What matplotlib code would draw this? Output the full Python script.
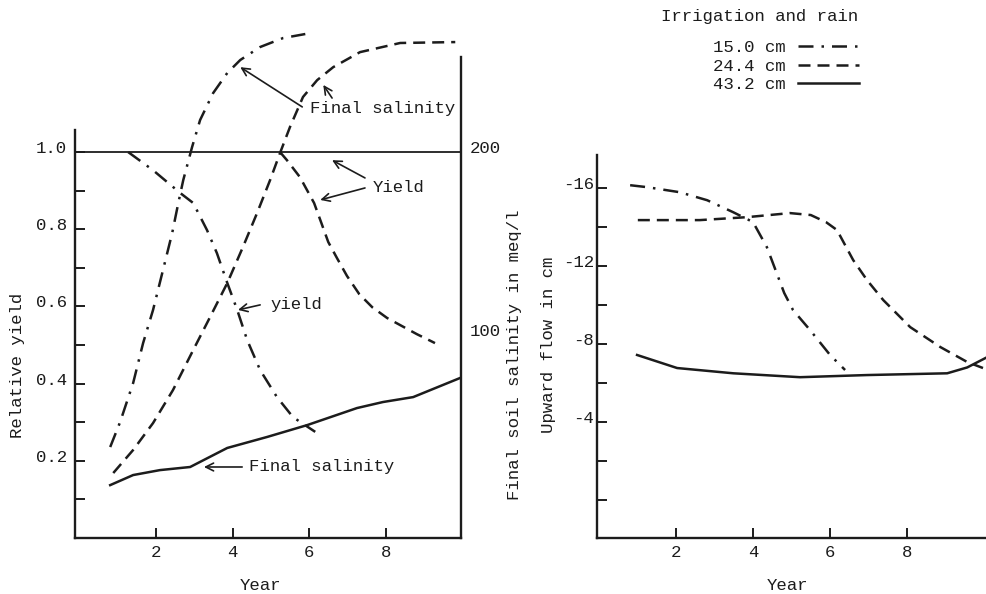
import matplotlib
matplotlib.use('Agg')
import matplotlib.pyplot as plt
import matplotlib.transforms as mtransforms

plt.rcParams['font.family'] = ['Liberation Mono', 'DejaVu Sans Mono']
plt.rcParams['axes.unicode_minus'] = False

# Left panel: relative yield
yield_15_year = [1.27, 1.92, 2.63, 2.97, 3.33, 3.59, 3.86, 4.12, 4.38, 4.72, 5.16, 5.58, 6.16]
yield_15 = [1.0, 0.953, 0.894, 0.868, 0.798, 0.738, 0.661, 0.591, 0.513, 0.435, 0.365, 0.313, 0.275]
yield_24_year = [5.24, 5.42, 5.76, 6.13, 6.31, 6.50, 6.73, 6.99, 7.31, 7.65, 8.04, 8.43, 8.82, 9.19, 9.29]
yield_24 = [1.0, 0.979, 0.935, 0.868, 0.819, 0.767, 0.725, 0.679, 0.632, 0.598, 0.570, 0.549, 0.528, 0.510, 0.505]
yield_43 = 1.0

# Left panel: final soil salinity (meq/l)
sal_15_year = [0.80, 1.06, 1.40, 1.66, 1.92, 2.18, 2.42, 2.58, 2.71, 2.94, 3.15, 3.49, 3.86, 4.20, 4.72, 5.32, 5.90]
sal_15 = [38.8, 52.5, 73.8, 95.6, 113.7, 135.5, 155.7, 172.1, 184.7, 202.7, 217.5, 232.2, 243.2, 250.3, 257.4, 262.3, 264.5]
sal_24_year = [0.88, 1.40, 1.92, 2.44, 2.97, 3.41, 3.86, 4.27, 4.64, 4.98, 5.24, 5.50, 5.84, 6.21, 6.63, 7.33, 8.38, 9.82]
sal_24 = [24.6, 37.2, 51.9, 69.9, 91.8, 109.8, 128.4, 148.1, 166.7, 184.7, 199.5, 213.7, 230.1, 239.3, 246.4, 254.6, 259.6, 260.1]
sal_43_year = [0.80, 1.40, 2.10, 2.89, 3.86, 4.90, 5.95, 7.25, 7.93, 8.72, 10.0]
sal_43 = [18.0, 23.5, 26.2, 27.9, 38.3, 44.3, 50.8, 60.1, 63.4, 66.1, 77.0]

# Right panel: upward flow (cm)
flow_15_year = [0.81, 1.25, 2.10, 2.81, 3.48, 4.00, 4.36, 4.81, 5.04, 5.48, 6.00, 6.39]
flow_15 = [-16.15, -16.05, -15.79, -15.38, -14.77, -14.26, -12.97, -10.62, -9.74, -8.72, -7.44, -6.67]
flow_24_year = [1.01, 2.62, 3.84, 4.96, 5.50, 5.90, 6.18, 6.60, 6.96, 7.38, 8.08, 8.86, 9.56, 9.97]
flow_24 = [-14.36, -14.36, -14.51, -14.72, -14.62, -14.25, -13.85, -12.31, -11.28, -10.26, -8.87, -7.85, -7.08, -6.77]
flow_43_year = [0.99, 2.03, 3.49, 5.22, 6.96, 9.04, 9.56, 10.08]
flow_43 = [-7.44, -6.77, -6.50, -6.30, -6.41, -6.50, -6.80, -7.33]

series_labels = ['15.0 cm', '24.4 cm', '43.2 cm']
year_ticks = [2, 4, 6, 8]
yield_ticks = [0.2, 0.4, 0.6, 0.8, 1.0]
yield_minor = [0.1, 0.3, 0.5, 0.7, 0.9]
sal_ticks = [100, 200]
flow_ticks = [-16, -12, -8, -4]
flow_minor = [-14, -10, -6, -2, 0]

ink = '#1c1c1c'
fs = 12.5
lw = 1.8
dashdot = (6, 3.2, 1, 3.2)
dashed = (4.8, 2.8)

fig = plt.figure(figsize=(9.87, 5.94), dpi=100)
fig.patch.set_facecolor('white')

# ---------- left panel ----------
ax1 = fig.add_axes([75 / 987, 56 / 594, 386 / 987, 521 / 594])
ax1.set_xlim(-0.12, 9.97)
ax1.set_ylim(0, 1.35)
ax1.patch.set_alpha(0)

ax1.plot(yield_15_year, yield_15, color=ink, lw=lw, dashes=dashdot)
ax1.plot(yield_24_year, yield_24, color=ink, lw=lw, dashes=dashed)
ax1.axhline(yield_43, color=ink, lw=1.3)

ax1s = ax1.twinx()
ax1s.set_ylim(-10.9, 273.8)
ax1s.plot(sal_15_year, sal_15, color=ink, lw=lw, dashes=dashdot)
ax1s.plot(sal_24_year, sal_24, color=ink, lw=lw, dashes=dashed)
ax1s.plot(sal_43_year, sal_43, color=ink, lw=lw)

for s in ['top', 'right']:
    ax1.spines[s].set_visible(False)
for s in ['top', 'left', 'bottom']:
    ax1s.spines[s].set_visible(False)
ax1.spines['left'].set_bounds(0, 1.057)
ax1s.spines['right'].set_bounds(-10.9, 252)
for sp in [ax1.spines['left'], ax1.spines['bottom'], ax1s.spines['right']]:
    sp.set_linewidth(1.7)
    sp.set_color(ink)

ax1.set_xticks(year_ticks)
ax1.set_yticks(yield_ticks)
ax1.set_yticks(yield_minor, minor=True)
ax1.set_yticklabels([f'{v:.1f}' for v in yield_ticks])
ax1.tick_params(axis='both', which='both', direction='in', length=7, width=1.4,
                colors=ink, labelsize=fs, pad=5)
ax1.tick_params(axis='y', which='both', pad=6)
ax1s.set_yticks(sal_ticks)
ax1s.tick_params(axis='y', length=0, labelsize=fs, colors=ink, pad=6)

# annotations
ax1.text(6.03, 1.114, 'Final salinity', fontsize=fs, color=ink, ha='left', va='center')
arrow = dict(arrowstyle='->', color=ink, lw=1.2, mutation_scale=14, shrinkA=0, shrinkB=0)
ax1.annotate('', xy=(4.20, 1.22), xytext=(5.82, 1.117), arrowprops=arrow)
ax1.annotate('', xy=(6.37, 1.174), xytext=(6.6, 1.14), arrowprops=arrow)
ax1.text(7.67, 0.907, 'Yield', fontsize=fs, color=ink, ha='left', va='center')
ax1.annotate('', xy=(6.60, 0.979), xytext=(7.46, 0.933), arrowprops=arrow)
ax1.annotate('', xy=(6.29, 0.876), xytext=(7.46, 0.907), arrowprops=arrow)
ax1.text(4.98, 0.604, 'yield', fontsize=fs, color=ink, ha='left', va='center')
ax1.annotate('', xy=(4.14, 0.591), xytext=(4.72, 0.604), arrowprops=arrow)
ax1.text(4.43, 0.184, 'Final salinity', fontsize=fs, color=ink, ha='left', va='center')
ax1.annotate('', xy=(3.25, 0.184), xytext=(4.25, 0.184), arrowprops=arrow)

# ---------- right panel ----------
ax2 = fig.add_axes([597 / 987, 56 / 594, 391 / 987, 383 / 594])
ax2.set_xlim(-0.05, 10.1)
ax2.set_ylim(1.95, -17.7)
l15, = ax2.plot(flow_15_year, flow_15, color=ink, lw=lw, dashes=dashdot)
l24, = ax2.plot(flow_24_year, flow_24, color=ink, lw=lw, dashes=dashed)
l43, = ax2.plot(flow_43_year, flow_43, color=ink, lw=lw)
for s in ['top', 'right']:
    ax2.spines[s].set_visible(False)
ax2.spines['left'].set_bounds(1.95, -17.7)
for s in ['left', 'bottom']:
    ax2.spines[s].set_linewidth(1.7)
    ax2.spines[s].set_color(ink)
ax2.set_xticks(year_ticks)
ax2.set_yticks(flow_ticks)
ax2.set_yticks(flow_minor, minor=True)
ax2.tick_params(axis='both', which='both', direction='in', length=7, width=1.4,
                colors=ink, labelsize=fs, pad=5)
ax2.tick_params(axis='y', which='both', pad=2)

# y tick labels sit a little above their ticks
up = mtransforms.ScaledTranslation(0, 0.05, fig.dpi_scale_trans)
for lab in ax1.get_yticklabels() + ax1s.get_yticklabels() + ax2.get_yticklabels():
    lab.set_transform(lab.get_transform() + up)

# axis titles
fig.text(18 / 987, 1 - 365 / 594, 'Relative yield', rotation=90, ha='center', va='center',
         fontsize=fs, color=ink)
fig.text(260 / 987, 1 - 585 / 594, 'Year', ha='center', va='center', fontsize=fs, color=ink)
fig.text(787 / 987, 1 - 585 / 594, 'Year', ha='center', va='center', fontsize=fs, color=ink)
fig.text(515 / 987, 1 - 355 / 594, 'Final soil salinity in meq/l', rotation=90,
         ha='center', va='center', fontsize=fs, color=ink)
fig.text(548 / 987, 1 - 345 / 594, 'Upward flow in cm', rotation=90,
         ha='center', va='center', fontsize=fs, color=ink)

# legend
fig.text(760 / 987, 1 - 16 / 594, 'Irrigation and rain', ha='center', va='center',
         fontsize=fs, color=ink)
fig.legend([l15, l24, l43], series_labels, loc='upper left',
           bbox_to_anchor=(713 / 987, 1 - 40 / 594), frameon=False, markerfirst=False,
           fontsize=fs, handlelength=3.5, handletextpad=0.7, labelspacing=0.2,
           borderpad=0, borderaxespad=0, labelcolor=ink)

fig.savefig('out.png', dpi=100, facecolor='white')
